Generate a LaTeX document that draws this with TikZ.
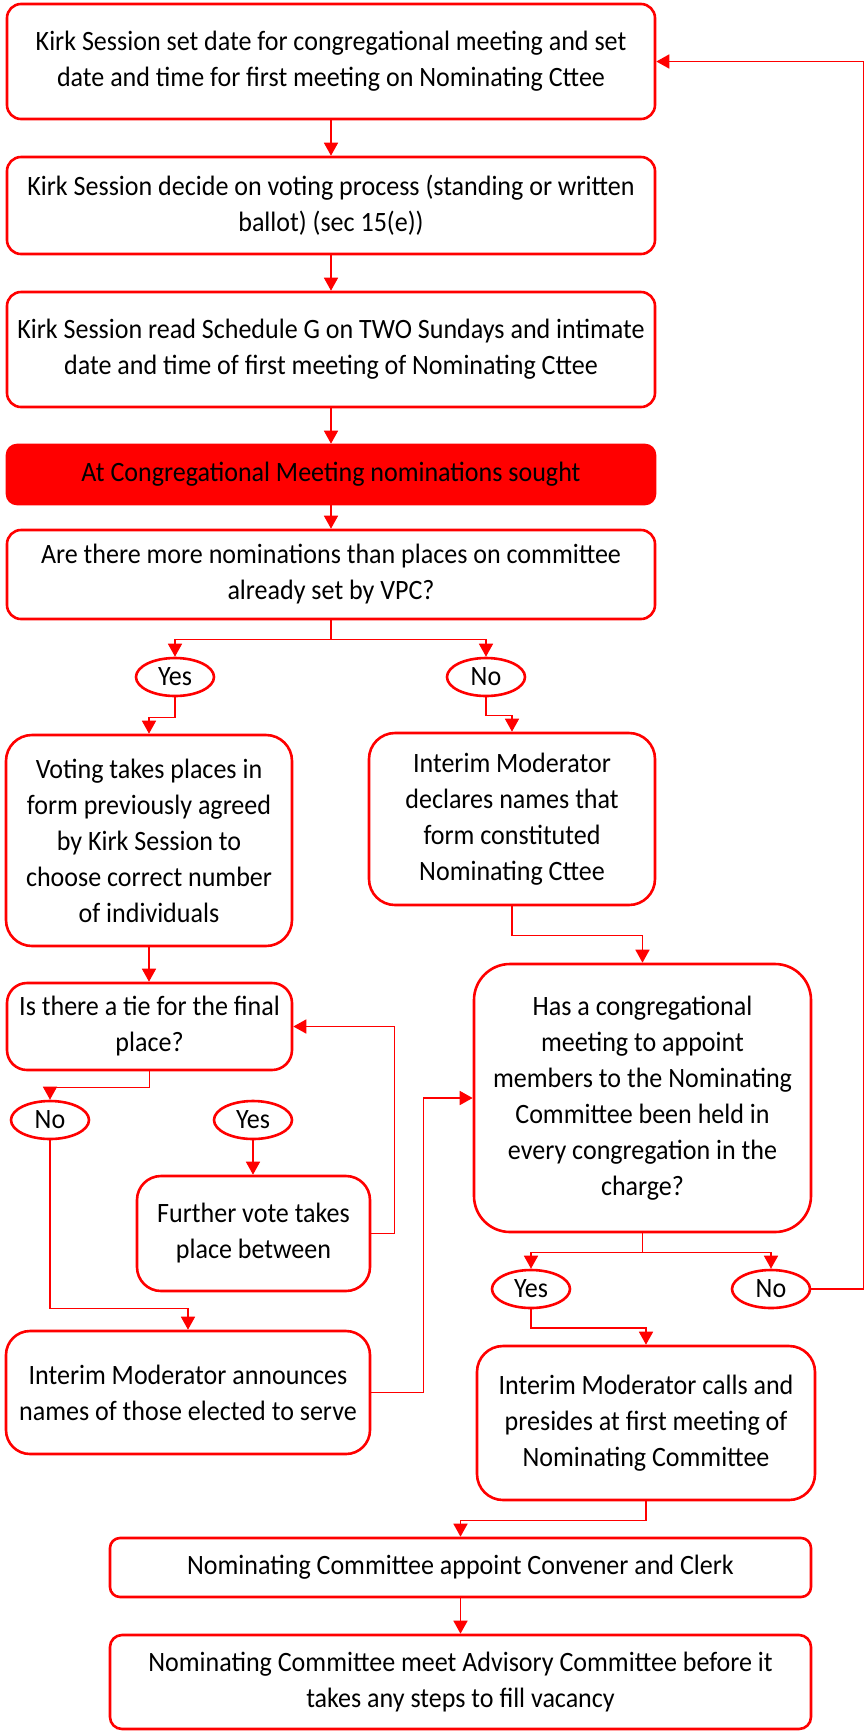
\documentclass[tikz,border=0pt]{standalone}
\usepackage{fontspec}
\setmainfont{Carlito}[FakeStretch=0.93]
\usepackage{tikz}
\usetikzlibrary{arrows.meta, shapes.geometric, positioning}
\definecolor{FlowRed}{RGB}{255,0,0}

\begin{document}
\begin{tikzpicture}[x=0.5pt,y=-0.5pt,
    font=\fontsize{14}{18}\selectfont,
    stepbox/.style={draw=FlowRed, line width=1.3pt, rounded corners=#1,
      align=center, inner sep=0pt, fill=white},
    stepbox/.default=7pt,
    answer/.style={draw=FlowRed, line width=1.3pt, ellipse, fill=white,
      minimum width=39pt, minimum height=19pt, inner sep=0pt},
    conn/.style={draw=FlowRed, line width=0.8pt,
      -{Triangle[width=7pt,length=6.5pt]}},
    back/.style={draw=FlowRed, line width=0.8pt}]
  \useasboundingbox (0,0) rectangle (865,1731);

  % Main column
  \node[stepbox, minimum width=324pt, minimum height=57.5pt] (setdate) at (331,61.5)
    {Kirk Session set date for congregational meeting and set\\date and time for first meeting on Nominating Cttee};
  \node[stepbox, minimum width=324pt, minimum height=48.5pt] (ballot) at (331,205.5)
    {Kirk Session decide on voting process (standing or written\\ballot) (sec 15(e))};
  \node[stepbox, minimum width=324pt, minimum height=57.5pt] (schedule) at (331,349.5)
    {Kirk Session read Schedule G on TWO Sundays and intimate\\date and time of first meeting of Nominating Cttee};
  \node[stepbox=5pt, fill=FlowRed, minimum width=324pt, minimum height=29.5pt] (congmeet) at (331,474.5)
    {At Congregational Meeting nominations sought};
  \node[stepbox, minimum width=324pt, minimum height=44.5pt] (morenoms) at (331,574.5)
    {Are there more nominations than places on committee\\already set by VPC?};

  \node[answer] (yesA) at (175,677) {Yes};
  \node[answer] (noA) at (486,677) {No};

  % Left branch
  \node[stepbox=13pt, minimum width=143pt, minimum height=105.5pt] (voting) at (149,840.5)
    {Voting takes places in\\form previously agreed\\by Kirk Session to\\choose correct number\\of individuals};
  \node[stepbox=10pt, minimum width=142.5pt, minimum height=43.5pt] (tie) at (149.5,1026.5)
    {Is there a tie for the final\\place?};
  \node[answer] (noB) at (50,1120) {No};
  \node[answer] (yesB) at (253,1120) {Yes};
  \node[stepbox=12pt, minimum width=116.5pt, minimum height=57.5pt] (further) at (253.5,1233.5)
    {Further vote takes\\place between};
  \node[stepbox=12pt, minimum width=182pt, minimum height=61.5pt] (announce) at (188,1392.5)
    {Interim Moderator announces\\names of those elected to serve};

  % Right branch
  \node[stepbox=13pt, minimum width=143pt, minimum height=86pt] (declares) at (512,819)
    {Interim Moderator\\declares names that\\form constituted\\Nominating Cttee};
  \node[stepbox=18pt, minimum width=168.5pt, minimum height=134pt] (allheld) at (642.5,1098)
    {Has a congregational\\meeting to appoint\\members to the Nominating\\Committee been held in\\every congregation in the\\charge?};
  \node[answer] (yesC) at (531,1289) {Yes};
  \node[answer] (noC) at (771,1289) {No};
  \node[stepbox=13pt, minimum width=169pt, minimum height=77pt] (calls) at (646,1423)
    {Interim Moderator calls and\\presides at first meeting of\\Nominating Committee};

  % Bottom
  \node[stepbox=5pt, minimum width=350.5pt, minimum height=29.5pt] (convener) at (460.5,1567.5)
    {Nominating Committee appoint Convener and Clerk};
  \node[stepbox=6pt, minimum width=350.5pt, minimum height=47pt] (advisory) at (460.5,1682)
    {Nominating Committee meet Advisory Committee before it\\takes any steps to fill vacancy};

  % Connectors
  \draw[conn] (setdate.south) -- (ballot.north);
  \draw[conn] (ballot.south) -- (schedule.north);
  \draw[conn] (schedule.south) -- (congmeet.north);
  \draw[conn] (congmeet.south) -- (morenoms.north);
  \draw[conn] (morenoms.south) -- ++(0,19) -| (yesA.north);
  \draw[conn] (morenoms.south) -- ++(0,19) -| (noA.north);
  \draw[conn] (yesA.south) -- ++(0,20) -| (voting.north);
  \draw[conn] (noA.south) -- ++(0,18) -| (declares.north);
  \draw[conn] (voting.south) -- (voting.south |- tie.north);
  \draw[conn] (tie.south) -- ++(0,16) -| (noB.north);
  \draw[conn] (yesB.south) -- (yesB.south |- further.north);
  \draw[conn] (further.east) -- ++(23,0) |- (tie.east);
  \draw[conn] (noB.south) -- ++(0,168) -| (announce.north);
  \draw[conn] (announce.east) -- ++(52,0) |- (allheld.west);
  \draw[conn] (declares.south) -- ++(0,29) -| (allheld.north);
  \draw[conn] (allheld.south) -- ++(0,19) -| (yesC.north);
  \draw[conn] (allheld.south) -- ++(0,19) -| (noC.north);
  \draw[conn] (yesC.south) -- ++(0,18.5) -| (calls.north);
  \draw[conn] (noC.east) -- ++(52,0) |- (setdate.east);
  \draw[conn] (calls.south) -- ++(0,19) -| (convener.north);
  \draw[conn] (convener.south) -- (advisory.north);
\end{tikzpicture}
\end{document}
